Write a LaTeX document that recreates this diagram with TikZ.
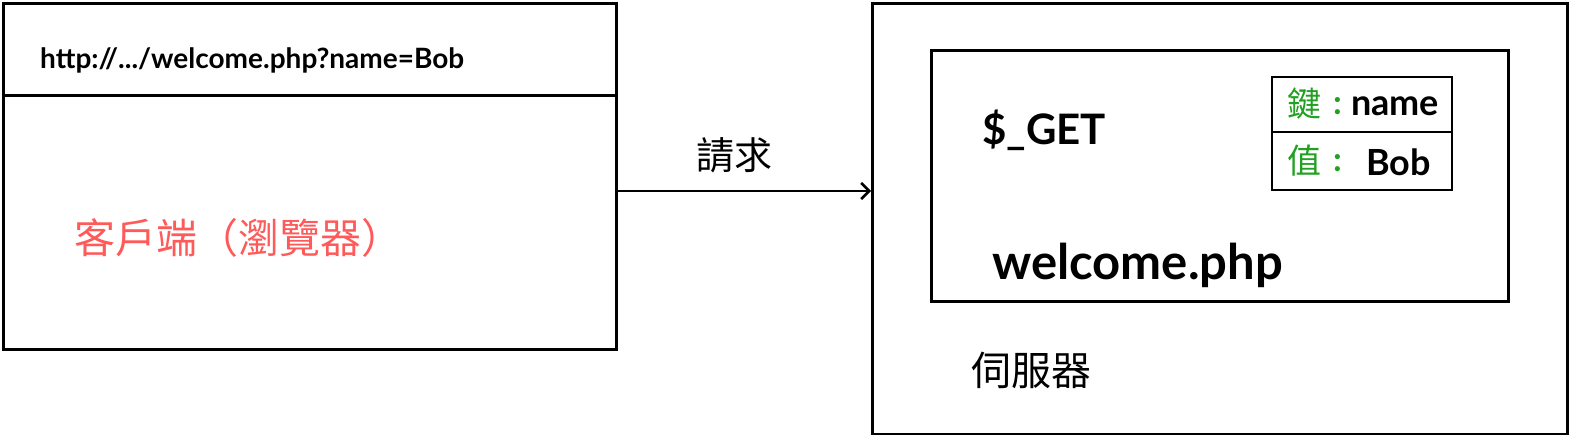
\documentclass[tikz,border=0pt]{standalone}
\usepackage{fontspec}
\setmainfont{Lato}
\newfontfamily\cjk{Noto Sans CJK TC}
\usetikzlibrary{arrows.meta}
\definecolor{redtxt}{HTML}{FF5A5A}
\definecolor{greentxt}{HTML}{22A022}
\tikzset{
  box/.style={draw=black, line width=3pt},
  thinbox/.style={draw=black, line width=2pt},
  lbl/.style={inner sep=0pt, anchor=west},
  link/.style={draw=black, line width=2.5pt, -{Straight Barb[length=8pt,width=16pt,line width=2.5pt]}},
}
\begin{document}
\begin{tikzpicture}[x=1pt,y=-1pt]
\useasboundingbox (0,0) rectangle (1569,435);
% client box
\node[box, minimum width=613pt, minimum height=346pt, inner sep=0pt, anchor=north west] (client) at (2,2) {};
\coordinate (divL) at (2,96);
\coordinate (divR) at (615,96);
\draw[line width=3pt] (divL) -- (divR);
\node[lbl] (url) at (40,60) {\fontsize{28}{32}\selectfont\bfseries http://.../welcome.php?name=Bob};
\node[lbl] (cl) at (74,238) {\cjk\fontsize{41}{46}\selectfont\color{redtxt}客戶端（瀏覽器）};
% server box
\node[box, minimum width=695pt, minimum height=431pt, inner sep=0pt, anchor=north west] (server) at (871,2) {};
\node[box, minimum width=577pt, minimum height=251pt, inner sep=0pt, anchor=north west] (php) at (930,49) {};
\node[lbl] (get) at (982,130) {\fontsize{42}{46}\selectfont\bfseries \$\_GET};
\node[lbl] (wp) at (992,265) {\fontsize{49}{54}\selectfont\bfseries welcome.php};
\node[lbl] (srv) at (971,370) {\cjk\fontsize{40}{44}\selectfont 伺服器};
% key/value table
\node[thinbox, minimum width=180pt, minimum height=113pt, inner sep=0pt, anchor=north west] (tbl) at (1271,76) {};
\coordinate (tdL) at (1271,132);
\coordinate (tdR) at (1451,132);
\draw[line width=1.2pt] (tdL) -- (tdR);
\node[lbl] (k1) at (1287,104) {\cjk\fontsize{34}{38}\selectfont\color{greentxt}鍵};
\node[lbl] (k2) at (1333,106) {\fontsize{34}{38}\selectfont\bfseries\color{greentxt}:};
\node[lbl] (k3) at (1351,106) {\fontsize{36}{40}\selectfont\bfseries name};
\node[lbl] (v1) at (1287,161) {\cjk\fontsize{34}{38}\selectfont\color{greentxt}值};
\node[lbl] (v2) at (1333,163) {\fontsize{34}{38}\selectfont\bfseries\color{greentxt}:};
\node[lbl] (v3) at (1366,162) {\fontsize{36}{40}\selectfont\bfseries Bob};
% request arrow
\coordinate (reqpos) at (734,155);
\draw[link] (client.east |- 0,191) -- (server.west |- 0,191);
\node[inner sep=0pt] (req) at (reqpos) {\cjk\fontsize{38}{42}\selectfont 請求};
\end{tikzpicture}
\end{document}
